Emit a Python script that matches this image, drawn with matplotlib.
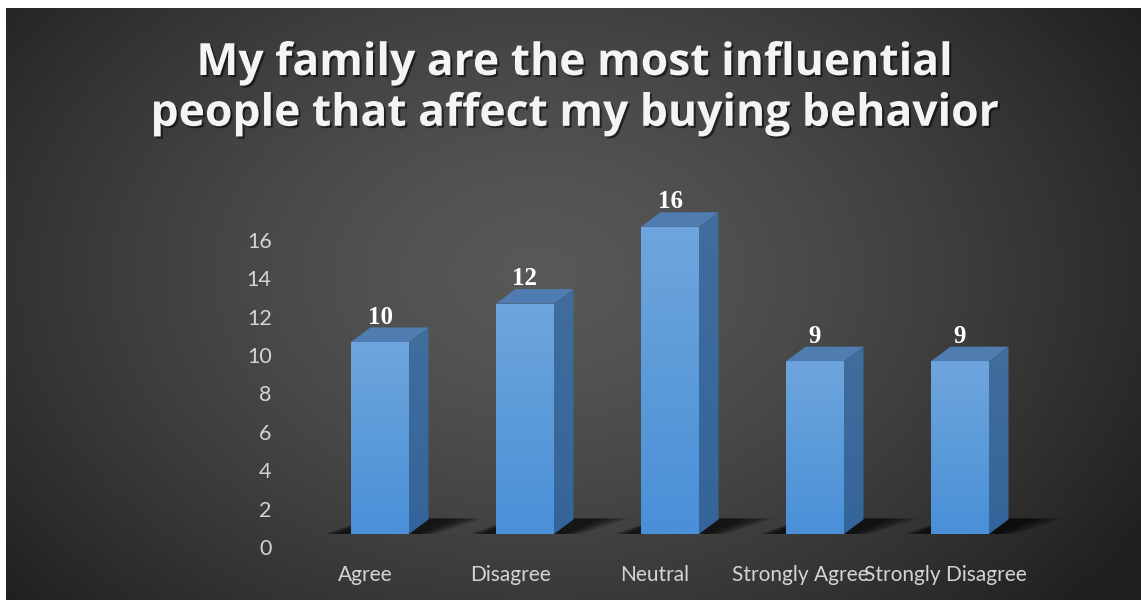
import matplotlib
matplotlib.use("Agg")
import matplotlib.pyplot as plt
import matplotlib.patheffects as pe
import numpy as np
from matplotlib.patches import Polygon, Rectangle
from matplotlib.transforms import ScaledTranslation

categories = ["Agree", "Disagree", "Neutral", "Strongly Agree", "Strongly Disagree"]
values = [10, 12, 16, 9, 9]
y_ticks = [0, 2, 4, 6, 8, 10, 12, 14, 16]
title = "My family are the most influential\npeople that affect my buying behavior"

W, H, DPI = 1141, 600, 100
plt.rcParams['font.family'] = ['Lato', 'DejaVu Sans']

fig = plt.figure(figsize=(W / DPI, H / DPI), dpi=DPI, facecolor='white')


def px_box(left, top, width, height):
    # pixel box (from top-left) -> figure fraction rect
    return [left / W, 1 - (top + height) / H, width / W, height / H]


# radial dark background, with a thin white margin on the top and left
bg = fig.add_axes(px_box(6, 8, W - 6, H - 8))
bg.set_axis_off()
gx, gy = np.meshgrid(np.linspace(0, 1, 400), np.linspace(0, 1, 220))
r = np.sqrt(((gx - 0.47) / 0.62) ** 2 + ((gy - 0.45) / 0.85) ** 2)
shade = 0x58 - (0x58 - 0x20) * np.clip(r, 0, 1) ** 1.4
bg.imshow(np.dstack([shade / 255.0] * 3), extent=[0, 1, 0, 1], origin='upper', aspect='auto')

fig.text(575 / W, 1 - 41 / H, title, ha='center', va='top', color='#f4f4f4',
         fontsize=32, fontweight='bold', family=['Open Sans', 'DejaVu Sans'],
         linespacing=1.17,
         path_effects=[pe.SimplePatchShadow(offset=(1.5, -1.5), shadow_rgbFace='black', alpha=0.55),
                       pe.Normal()])

# axis geometry: 19.2 px per unit, bars 145 px apart
unit_px, step_px = 19.2, 145.0
x0, x1 = -0.7, 4.8
y_top = 17
ax_left = 380 - (0 - x0) * step_px
ax_w = (x1 - x0) * step_px
ax_h = y_top * unit_px

# back wall: value axis only
back = fig.add_axes(px_box(ax_left, 547 - ax_h, ax_w, ax_h))
back.set_xlim(x0, x1)
back.set_ylim(0, y_top)
back.patch.set_visible(False)
for s in back.spines.values():
    s.set_visible(False)
back.set_xticks([])
back.set_yticks(y_ticks)
back.tick_params(axis='y', length=0, pad=5, labelsize=15.5, labelcolor='#d4d4d4')

# bars sit slightly higher than the wall's zero line
ax = fig.add_axes(px_box(ax_left, 534 - ax_h, ax_w, ax_h))
ax.set_xlim(x0, x1)
ax.set_ylim(0, y_top)
ax.patch.set_visible(False)
for s in ax.spines.values():
    s.set_visible(False)
ax.set_yticks([])
x = np.arange(len(categories))
ax.set_xticks(x)
ax.set_xticklabels(categories)
ax.tick_params(axis='x', length=0, pad=22, labelsize=15, labelcolor='#d4d4d4')
shift = ScaledTranslation(-15 / DPI, 0, fig.dpi_scale_trans)
for lab in ax.get_xticklabels():
    lab.set_transform(lab.get_transform() + shift)

bw = 58 / step_px
ddx = 19.5 / step_px
ddy = 14.5 / unit_px

front_grad = np.linspace(0, 1, 256)[:, None]
front_cmap = matplotlib.colors.LinearSegmentedColormap.from_list('front', ['#4a8fd8', '#5b9bd9', '#6fa5de'])
side_cmap = matplotlib.colors.LinearSegmentedColormap.from_list('side', ['#34659a', '#406d9c'])

for xi, v in zip(x, values):
    xl, xr = xi - bw / 2, xi + bw / 2
    # soft floor shadow
    for k in range(8):
        g = 0.03 * (8 - k)
        shadow = Polygon([(xl - 0.1 - g, -0.15 - g), (xr + 0.02, -0.15 - g),
                          (xr + ddx + 0.14 + g, ddy + 0.05), (xl + ddx, ddy + 0.05)],
                         closed=True, facecolor='black', edgecolor='none', alpha=0.12, zorder=1)
        ax.add_patch(shadow)
    # front face
    front = Rectangle((xl, 0), bw, v, facecolor='none', edgecolor='none', zorder=3)
    ax.add_patch(front)
    im = ax.imshow(front_grad, cmap=front_cmap, extent=[xl, xr, 0, v], origin='lower',
                   aspect='auto', zorder=3)
    im.set_clip_path(front)
    # right side face
    side = Polygon([(xr, 0), (xr + ddx, ddy), (xr + ddx, v + ddy), (xr, v)],
                   closed=True, facecolor='none', edgecolor='none', zorder=3)
    ax.add_patch(side)
    im2 = ax.imshow(front_grad, cmap=side_cmap, extent=[xr, xr + ddx, 0, v + ddy], origin='lower',
                    aspect='auto', zorder=3)
    im2.set_clip_path(side)
    # top face
    ax.add_patch(Polygon([(xl, v), (xr, v), (xr + ddx, v + ddy), (xl + ddx, v + ddy)],
                         closed=True, facecolor='#4f7db2', edgecolor='none', zorder=3))
    ax.annotate(str(v), (xi, v), xytext=(0, 18.5 * 0.72), textcoords='offset points',
                ha='center', va='baseline', color='white', fontsize=18, fontweight='bold',
                family=['Liberation Serif', 'DejaVu Serif'], zorder=5)

ax.set_xlim(x0, x1)
ax.set_ylim(0, y_top)

fig.savefig('out.png', dpi=DPI, facecolor=fig.get_facecolor())
